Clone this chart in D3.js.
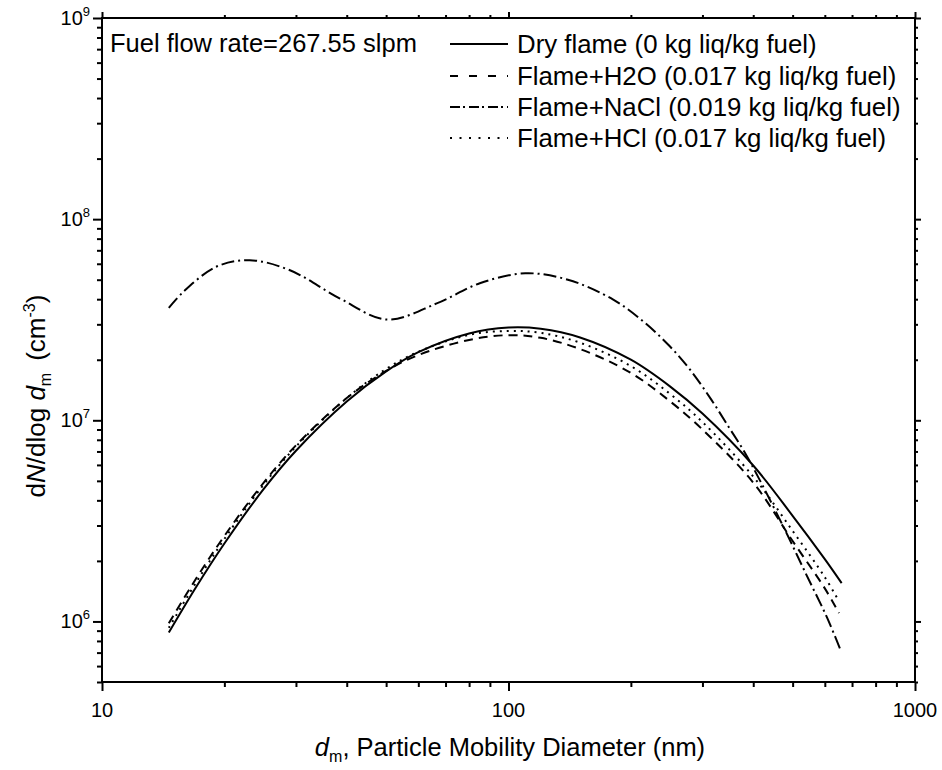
<!DOCTYPE html>
<html><head><meta charset="utf-8">
<script src="https://cdn.jsdelivr.net/npm/d3@7"></script>
<style>
html,body{margin:0;padding:0;background:#fff;}
svg text{font-family:"Liberation Sans",Arial,sans-serif;fill:#000;}
</style></head>
<body>
<svg id="c" width="942" height="770"></svg>
<script>
// ---- data ----
const dryD   = [14.6, 17, 20, 25, 30, 40, 50, 60, 80, 100, 120, 150, 200, 250, 300, 400, 500, 600, 660];
const dryN   = [8.8e5, 1.47e6, 2.44e6, 4.56e6, 7.06e6, 1.24e7, 1.75e7, 2.18e7, 2.70e7, 2.89e7, 2.85e7, 2.58e7, 2.0e7, 1.47e7, 1.08e7, 5.96e6, 3.35e6, 2.04e6, 1.55e6];
const h2oD   = [14.6, 17, 20, 25, 30, 40, 50, 60, 80, 100, 120, 150, 200, 250, 300, 400, 500, 600, 650];
const h2oN   = [9.8e5, 1.62e6, 2.66e6, 4.9e6, 7.5e6, 1.29e7, 1.76e7, 2.11e7, 2.51e7, 2.65e7, 2.57e7, 2.26e7, 1.72e7, 1.24e7, 9.0e6, 4.9e6, 2.51e6, 1.46e6, 1.1e6];
const naclD  = [14.6, 15.85, 19.1, 23.1, 29, 38.5, 50.2, 66.6, 85, 110, 140, 181, 215, 249, 280, 316, 350, 380, 416, 480, 541, 607, 656];
const naclN  = [3.62e7, 4.35e7, 5.8e7, 6.25e7, 5.57e7, 4.03e7, 3.17e7, 3.81e7, 4.8e7, 5.38e7, 5.0e7, 3.98e7, 3.09e7, 2.34e7, 1.78e7, 1.26e7, 9.1e6, 7.0e6, 5.0e6, 2.82e6, 1.70e6, 1.05e6, 7.2e5];
const hclD   = [14.6, 17, 20, 25, 30, 40, 50, 60, 80, 100, 120, 150, 200, 250, 300, 400, 500, 600, 650];
const hclN   = [9.3e5, 1.55e6, 2.57e6, 4.8e6, 7.4e6, 1.29e7, 1.8e7, 2.19e7, 2.66e7, 2.78e7, 2.72e7, 2.43e7, 1.86e7, 1.35e7, 9.8e6, 5.25e6, 2.82e6, 1.66e6, 1.26e6];
const seriesNames = ["Dry flame (0 kg liq/kg fuel)", "Flame+H2O (0.017 kg liq/kg fuel)", "Flame+NaCl (0.019 kg liq/kg fuel)", "Flame+HCl (0.017 kg liq/kg fuel)"];
const xMajor = [10, 100, 1000];
const xMinor = [20,30,40,50,60,70,80,90,200,300,400,500,600,700,800,900];
const yMajorExp = [6, 7, 8, 9];
const yMinor = [5e5,6e5,7e5,8e5,9e5,2e6,3e6,4e6,5e6,6e6,7e6,8e6,9e6,2e7,3e7,4e7,5e7,6e7,7e7,8e7,9e7,2e8,3e8,4e8,5e8,6e8,7e8,8e8,9e8];
const annotation = "Fuel flow rate=267.55 slpm";

// ---- layout ----
const L = 102, R = 915, T = 18, B = 682;
const svg = d3.select("#c");
const x = d3.scaleLog().domain([10, 1000]).range([L, R]);
const y = d3.scaleLog().domain([5e5, 1e9]).range([B, T]);

const dashes = [null, "9,6", "13,4,2,4", "2,5"];
const legDashes = [null, "8,11", "10,3,2,4", "2,7.5"];
const series = [
  {d: dryD, n: dryN}, {d: h2oD, n: h2oN}, {d: naclD, n: naclN}, {d: hclD, n: hclN}
];

const line = d3.line().x(p => x(p[0])).y(p => y(p[1])).curve(d3.curveCatmullRom.alpha(0.5));
series.forEach((s, i) => {
  const pts = s.d.map((v, k) => [v, s.n[k]]);
  svg.append("path").attr("d", line(pts)).attr("fill", "none")
    .attr("stroke", "#000").attr("stroke-width", 2)
    .attr("stroke-dasharray", dashes[i]);
});

// axes
function styleAxis(g){ g.select(".domain").remove(); g.selectAll("line").attr("stroke","#000").attr("stroke-width",2); g.selectAll("text").remove(); }
const yVals = yMajorExp.map(e => Math.pow(10, e));
svg.append("g").attr("transform",`translate(0,${B})`).call(d3.axisBottom(x).tickValues(xMajor).tickSize(9).tickFormat("")).call(styleAxis);
svg.append("g").attr("transform",`translate(0,${B})`).call(d3.axisBottom(x).tickValues(xMinor).tickSize(5).tickFormat("")).call(styleAxis);
svg.append("g").attr("transform",`translate(0,${T})`).call(d3.axisTop(x).tickValues(xMajor).tickSize(6).tickFormat("")).call(styleAxis);
svg.append("g").attr("transform",`translate(0,${T})`).call(d3.axisTop(x).tickValues(xMinor).tickSize(3).tickFormat("")).call(styleAxis);
svg.append("g").attr("transform",`translate(${L},0)`).call(d3.axisLeft(y).tickValues(yVals).tickSize(9).tickFormat("")).call(styleAxis);
svg.append("g").attr("transform",`translate(${L},0)`).call(d3.axisLeft(y).tickValues(yMinor).tickSize(5).tickFormat("")).call(styleAxis);
svg.append("g").attr("transform",`translate(${R},0)`).call(d3.axisRight(y).tickValues(yVals).tickSize(6).tickFormat("")).call(styleAxis);
svg.append("g").attr("transform",`translate(${R},0)`).call(d3.axisRight(y).tickValues(yMinor).tickSize(3).tickFormat("")).call(styleAxis);
svg.append("rect").attr("x", L).attr("y", T).attr("width", R-L).attr("height", B-T)
  .attr("fill","none").attr("stroke","#000").attr("stroke-width",2);

// x tick labels
xMajor.forEach(v => {
  svg.append("text").attr("x", x(v)).attr("y", 717).attr("text-anchor","middle")
    .attr("font-size", 20).text(v);
});
// y tick labels
yMajorExp.forEach(e => {
  const t = svg.append("text").attr("x", 90).attr("y", y(Math.pow(10,e)) + 7).attr("text-anchor","end").attr("font-size", 20);
  t.append("tspan").text("10");
  t.append("tspan").attr("dy", -9).attr("font-size", 13).text(e);
});

// axis titles
const xt = svg.append("text").attr("x", 510).attr("y", 756).attr("text-anchor","middle").attr("font-size", 25.5);
xt.append("tspan").attr("font-style","italic").text("d");
xt.append("tspan").attr("font-size", 16).attr("dy", 6).text("m");
xt.append("tspan").attr("dy", -6).text(", Particle Mobility Diameter (nm)");

const yt = svg.append("text").attr("transform","translate(45,396) rotate(-90)").attr("text-anchor","middle").attr("font-size", 26);
yt.append("tspan").text("d");
yt.append("tspan").attr("font-style","italic").text("N");
yt.append("tspan").text("/dlog ");
yt.append("tspan").attr("font-style","italic").text("d");
yt.append("tspan").attr("font-size", 16).attr("dy", 6).text("m");
yt.append("tspan").attr("dy", -6).attr("dx", 12).text("(cm");
yt.append("tspan").attr("font-size", 16).attr("dy", -10).text("-3");
yt.append("tspan").attr("dy", 10).text(")");

// annotation
svg.append("text").attr("x", 110).attr("y", 52).attr("font-size", 25.5).text(annotation);

// legend
const legY = [44, 76, 107, 138];
seriesNames.forEach((name, i) => {
  svg.append("line").attr("x1", 450).attr("x2", 508).attr("y1", legY[i]).attr("y2", legY[i])
    .attr("stroke","#000").attr("stroke-width", 2).attr("stroke-dasharray", legDashes[i]);
  svg.append("text").attr("x", 517).attr("y", legY[i] + 9).attr("font-size", 25.8).text(name);
});
</script>
</body></html>
